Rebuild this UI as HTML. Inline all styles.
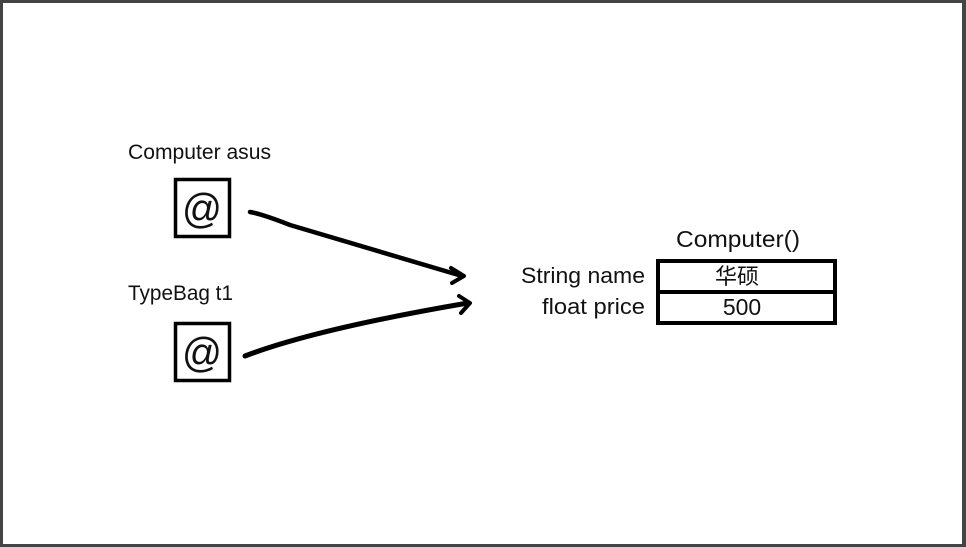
<!DOCTYPE html>
<html><head><meta charset="utf-8"><style>
html,body{margin:0;padding:0;background:#fff}
svg{display:block}
text{font-family:"Liberation Sans","Noto Sans CJK SC",sans-serif;fill:#111}
</style></head><body>
<svg width="966" height="547" viewBox="0 0 966 547" xmlns="http://www.w3.org/2000/svg">
<rect x="0" y="0" width="966" height="547" fill="#444"/>
<rect x="3" y="3" width="959" height="541" fill="#fff"/>
<text x="128" y="159" font-size="21" textLength="143" lengthAdjust="spacingAndGlyphs">Computer asus</text>
<text x="128" y="300" font-size="21" textLength="105" lengthAdjust="spacingAndGlyphs">TypeBag t1</text>
<rect x="175.5" y="179.5" width="54" height="57" fill="none" stroke="#000" stroke-width="3.5"/>
<rect x="175.5" y="323.5" width="54" height="57" fill="none" stroke="#000" stroke-width="3.5"/>
<text x="202" y="223" font-size="42" text-anchor="middle" textLength="40" lengthAdjust="spacingAndGlyphs">@</text>
<text x="202" y="367" font-size="42" text-anchor="middle" textLength="40" lengthAdjust="spacingAndGlyphs">@</text>
<path d="M250 212 Q 262 214, 290 225 L 462 276" fill="none" stroke="#000" stroke-width="4.5" stroke-linecap="round" stroke-linejoin="round"/>
<path d="M451 268 L464 276 L452 283" fill="none" stroke="#000" stroke-width="4" stroke-linecap="round" stroke-linejoin="round"/>
<path d="M245 356 C 300 335, 380 318, 468 303" fill="none" stroke="#000" stroke-width="5" stroke-linecap="round"/>
<path d="M459 296 L470 303 L461 313" fill="none" stroke="#000" stroke-width="4" stroke-linecap="round" stroke-linejoin="round"/>
<text x="676" y="247" font-size="23" textLength="124" lengthAdjust="spacingAndGlyphs">Computer()</text>
<text x="645" y="283" font-size="22" text-anchor="end" textLength="124" lengthAdjust="spacingAndGlyphs">String name</text>
<text x="645" y="314" font-size="22" text-anchor="end" textLength="103" lengthAdjust="spacingAndGlyphs">float price</text>
<rect x="658" y="261" width="177" height="62" fill="none" stroke="#000" stroke-width="4"/>
<line x1="658" y1="292" x2="835" y2="292" stroke="#000" stroke-width="4"/>
<text x="737" y="284" font-size="22" text-anchor="middle">华硕</text>
<text x="742" y="315" font-size="23" text-anchor="middle">500</text>
</svg>
</body></html>
